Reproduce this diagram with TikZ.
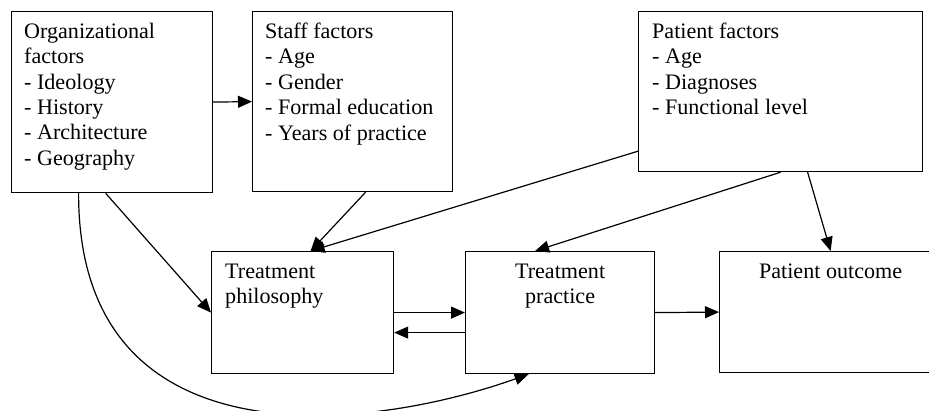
\documentclass[tikz,border=0pt]{standalone}
\usepackage{fontspec}
\setmainfont{Liberation Serif}
\usetikzlibrary{arrows.meta,calc}
\begin{document}
\begin{tikzpicture}[x=1pt,y=1pt,
  box/.style={draw,line width=1.2pt,inner sep=0pt,anchor=north west},
  txt/.style={inner sep=0pt,anchor=north west,align=left,font={\fontsize{22.1}{25.4}\selectfont}},
  ctxt/.style={inner sep=0pt,anchor=north,align=center,font={\fontsize{22.1}{25.4}\selectfont}},
  arr/.style={line width=1.2pt,-{Triangle[length=14pt,width=12pt]}}]
\useasboundingbox (0,0) rectangle (929,-411);
\clip (0,0) rectangle (929,-411);
% boxes
\node[box,minimum width=201pt,minimum height=181pt] (org) at (11,-11) {};
\node[box,minimum width=200pt,minimum height=180pt] (staff) at (252,-11) {};
\node[box,minimum width=284pt,minimum height=160pt] (pf) at (638,-11) {};
\node[box,minimum width=182pt,minimum height=122pt] (phil) at (211,-251) {};
\node[box,minimum width=189pt,minimum height=122pt] (prac) at (465,-251) {};
\node[box,minimum width=222pt,minimum height=121pt] (out) at (719,-251) {};
% texts
\node[txt] (orgt) at (24,-22.8) {Organizational\\factors\\- Ideology\\- History\\- Architecture\\- Geography};
\node[txt] (stafft) at (265,-22.8) {Staff factors\\- Age\\- Gender\\- Formal education\\- Years of practice};
\node[txt] (pft) at (652,-22.8) {Patient factors\\- Age\\- Diagnoses\\- Functional level};
\node[txt] (philt) at (225,-263.8) {Treatment\\philosophy};
\node[ctxt] (pract) at (prac.north |- 0,-263.8) {Treatment\\practice};
\node[ctxt] (outt) at (out.north |- 0,-263.8) {Patient outcome};
% connectors
\draw[arr] (org.east) -- (staff.west);
\draw[arr] ([xshift=-6.5]org.south) -- (phil.west);
\draw[arr] ([xshift=13]staff.south) -- ([xshift=8]phil.north);
\draw[arr] ($(pf.south west)+(0,21)$) -- ([xshift=8]phil.north);
\draw[arr] (pf.south) -- ([xshift=-25]prac.north);
\draw[arr] ([xshift=27]pf.south) -- (out.north);
\draw[arr] (phil.east) -- (prac.west);
\draw[arr] ([yshift=-20]prac.west) -- ([yshift=-20]phil.east);
\draw[arr] (prac.east) -- (out.west);
\draw[arr] ([xshift=-33.5]org.south) .. controls (78,-462) and (360,-434) .. ([xshift=-31.5]prac.south);
\end{tikzpicture}
\end{document}
